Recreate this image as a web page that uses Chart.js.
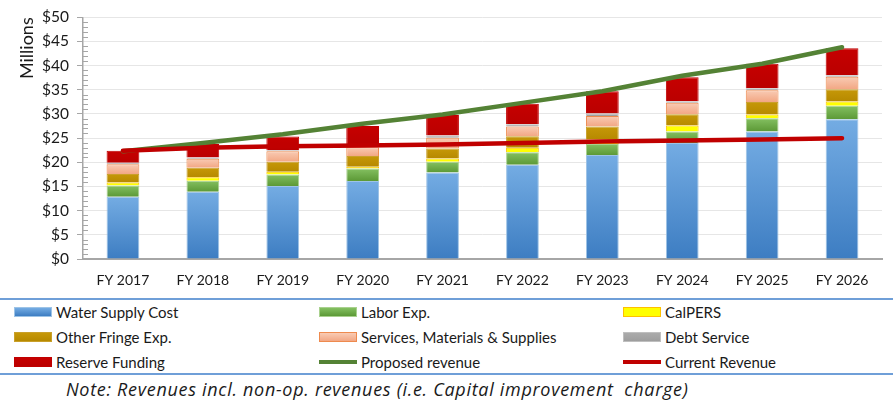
<!DOCTYPE html>
<html><head><meta charset="utf-8">
<script src="https://cdn.jsdelivr.net/npm/chart.js@4"></script>
<style>
body{margin:0;background:#fff;width:895px;height:401px;overflow:hidden;font-family:Lato,"Open Sans",sans-serif;color:#1a1a1a;}
#wrap{position:absolute;left:0;top:0;width:895px;height:297px;}
#legend{position:absolute;left:0;top:298px;width:893px;height:73px;border-top:2px solid #6F9FD8;border-bottom:2px solid #6F9FD8;}
.item{position:absolute;height:20px;display:flex;align-items:center;font-size:15px;color:#1a1a1a;white-space:nowrap;}
.sw{width:38px;height:10px;margin-right:4px;box-sizing:border-box;}
.ln{width:38px;height:4px;margin-right:4px;}
#note{position:absolute;left:66px;top:377px;font-family:"Open Sans",sans-serif;font-style:italic;font-size:18px;letter-spacing:0.7px;white-space:nowrap;color:#1a1a1a;}
</style></head>
<body>
<div id="wrap"><canvas id="c" width="895" height="297"></canvas></div>
<div id="legend"></div>
<div id="note">Note: Revenues incl. non-op. revenues (i.e. Capital improvement&nbsp; charge)</div>
<script>
const categories = ['FY 2017','FY 2018','FY 2019','FY 2020','FY 2021','FY 2022','FY 2023','FY 2024','FY 2025','FY 2026'];
const waterSupply = [12.9, 13.9, 15.1, 16.15, 17.9, 19.5, 21.5, 24.0, 26.4, 28.9];
const laborExp = [2.3, 2.3, 2.4, 2.55, 2.2, 2.6, 2.3, 2.4, 2.7, 2.8];
const calpers = [0.6, 0.7, 0.55, 0.4, 0.7, 0.9, 0.9, 1.2, 0.8, 0.9];
const otherFringe = [1.8, 2.0, 2.05, 2.2, 2.05, 2.4, 2.7, 2.35, 2.6, 2.5];
const services = [2.0, 1.85, 2.2, 1.8, 2.25, 2.0, 2.2, 2.35, 2.4, 2.6];
const debtService = [0.3, 0.25, 0.2, 0.3, 0.45, 0.5, 0.5, 0.35, 0.4, 0.3];
const reserveFunding = [2.5, 2.8, 2.85, 4.1, 4.25, 4.2, 4.6, 4.95, 5.1, 5.6];
const proposedRevenue = [22.3, 24.0, 25.8, 28.0, 29.9, 32.3, 34.7, 37.9, 40.4, 43.8];
const currentRevenue = [22.4, 23.0, 23.3, 23.5, 23.7, 24.0, 24.3, 24.5, 24.7, 25.0];
const yMin = 0, yMax = 50, yStep = 5, yMinorStep = 1;

const barSeries = [
  {label:'Water Supply Cost', data:waterSupply, top:'#74ACE3', bot:'#3D7DC2', sw:'#5B9BD5', border:'#9DC3E6'},
  {label:'Labor Exp.', data:laborExp, top:'#84C061', bot:'#5C9936', sw:'#70AD47', border:'#A9D18E'},
  {label:'CalPERS', data:calpers, top:'#FFFF00', bot:'#FFFF00', sw:'#FFFF00', border:'#FFC000'},
  {label:'Other Fringe Exp.', data:otherFringe, top:'#C69808', bot:'#B68900', sw:'#BF9000', border:'#C9A02A'},
  {label:'Services, Materials & Supplies', data:services, top:'#F9CBB4', bot:'#F2A784', sw:'#F4B183', border:'#EE8A4E'},
  {label:'Debt Service', data:debtService, top:'#ABABAB', bot:'#9E9E9E', sw:'#A5A5A5', border:'#BFBFBF'},
  {label:'Reserve Funding', data:reserveFunding, top:'#C60000', bot:'#BA0000', sw:'#C00000', border:'#C00000'}
];
const lineSeries = [
  {label:'Proposed revenue', data:proposedRevenue, color:'#548235', order:1, stack:'p'},
  {label:'Current Revenue', data:currentRevenue, color:'#C00000', order:0, stack:'c'}
];

function segGrad(si){
  const s = barSeries[si];
  return (ctx) => {
    const chart = ctx.chart;
    const ys = chart.scales && chart.scales.y;
    if (!ys || ctx.type !== 'data' || !chart.chartArea) return s.bot;
    const i = ctx.dataIndex;
    let start = 0;
    for (let k = 0; k < si; k++) start += barSeries[k].data[i];
    const t = ys.getPixelForValue(start + s.data[i]);
    const b = ys.getPixelForValue(start);
    if (!isFinite(t) || !isFinite(b) || Math.abs(t - b) < 0.5) return s.bot;
    const g = chart.ctx.createLinearGradient(0, t, 0, b);
    g.addColorStop(0, s.top); g.addColorStop(1, s.bot);
    return g;
  };
}

const datasets = barSeries.map((s, si) => ({
  type:'bar', label:s.label, data:s.data, stack:'costs', order:2,
  backgroundColor: segGrad(si), borderColor:s.border, borderWidth:1,
  barPercentage:0.41, categoryPercentage:1.0
})).concat(lineSeries.map(s => ({
  type:'line', label:s.label, data:s.data, stack:s.stack, order:s.order,
  borderColor:s.color, backgroundColor:s.color, borderWidth:4.5, pointRadius:0,
  tension:0, fill:false, borderCapStyle:'round'
})));

const minorTicks = {
  id:'minorTicks',
  afterDatasetsDraw(chart){
    const y = chart.scales.y, c = chart.ctx;
    c.save(); c.strokeStyle = '#A6A6A6'; c.lineWidth = 1;
    for (let v = yMin; v <= yMax; v += yMinorStep) {
      if (v % yStep === 0) continue;
      const p = Math.round(y.getPixelForValue(v)) + 0.5;
      c.beginPath(); c.moveTo(y.right, p); c.lineTo(y.right + 5, p); c.stroke();
    }
    c.restore();
  }
};

Chart.defaults.font.family = 'Lato, "Open Sans", sans-serif';
Chart.defaults.color = '#1a1a1a';
const chart = new Chart(document.getElementById('c'), {
  type:'bar',
  data:{labels:categories, datasets},
  options:{
    responsive:false, animation:false, devicePixelRatio:1,
    layout:{padding:{left:0, right:13, top:13, bottom:0}},
    plugins:{legend:{display:false}, tooltip:{enabled:false}},
    scales:{
      x:{
        stacked:true,
        grid:{display:false, drawTicks:false},
        border:{display:true, color:'#A6A6A6', width:2},
        ticks:{font:{size:14}, padding:13, maxRotation:0, color:'#1a1a1a'},
        afterFit(s){ s.height = 38; }
      },
      y:{
        stacked:true, min:yMin, max:yMax,
        grid:{color:'#E6E6E6', lineWidth:1, tickColor:'#A6A6A6', tickLength:6},
        border:{display:true, color:'#A6A6A6', width:1.5},
        ticks:{stepSize:yStep, font:{size:15.5}, padding:8, color:'#1a1a1a', callback:v => '$' + v},
        title:{display:true, text:'Millions', align:'end', font:{size:18}, color:'#1a1a1a', padding:{top:16, bottom:0}},
        afterFit(s){ s.width = 83; }
      }
    }
  },
  plugins:[minorTicks]
});

// HTML legend built from the series definitions
const leg = document.getElementById('legend');
const colX = [14, 319, 623], rowY = [2, 27, 52];
const items = barSeries.map(s => ({label:s.label, box:s.sw, top:s.top, bot:s.bot, border:s.border}))
  .concat(lineSeries.map(s => ({label:s.label, line:s.color})));
items.forEach((it, i) => {
  const d = document.createElement('div');
  d.className = 'item';
  d.style.left = colX[i % 3] + 'px';
  d.style.top = rowY[Math.floor(i / 3)] + 'px';
  const sw = document.createElement('span');
  if (it.line) { sw.className = 'ln'; sw.style.background = it.line; }
  else { sw.className = 'sw'; sw.style.background = 'linear-gradient(' + it.top + ',' + it.bot + ')'; sw.style.border = '1px solid ' + it.border; }
  d.appendChild(sw);
  const t = document.createElement('span'); t.textContent = it.label; d.appendChild(t);
  leg.appendChild(d);
});
</script>
</body></html>
